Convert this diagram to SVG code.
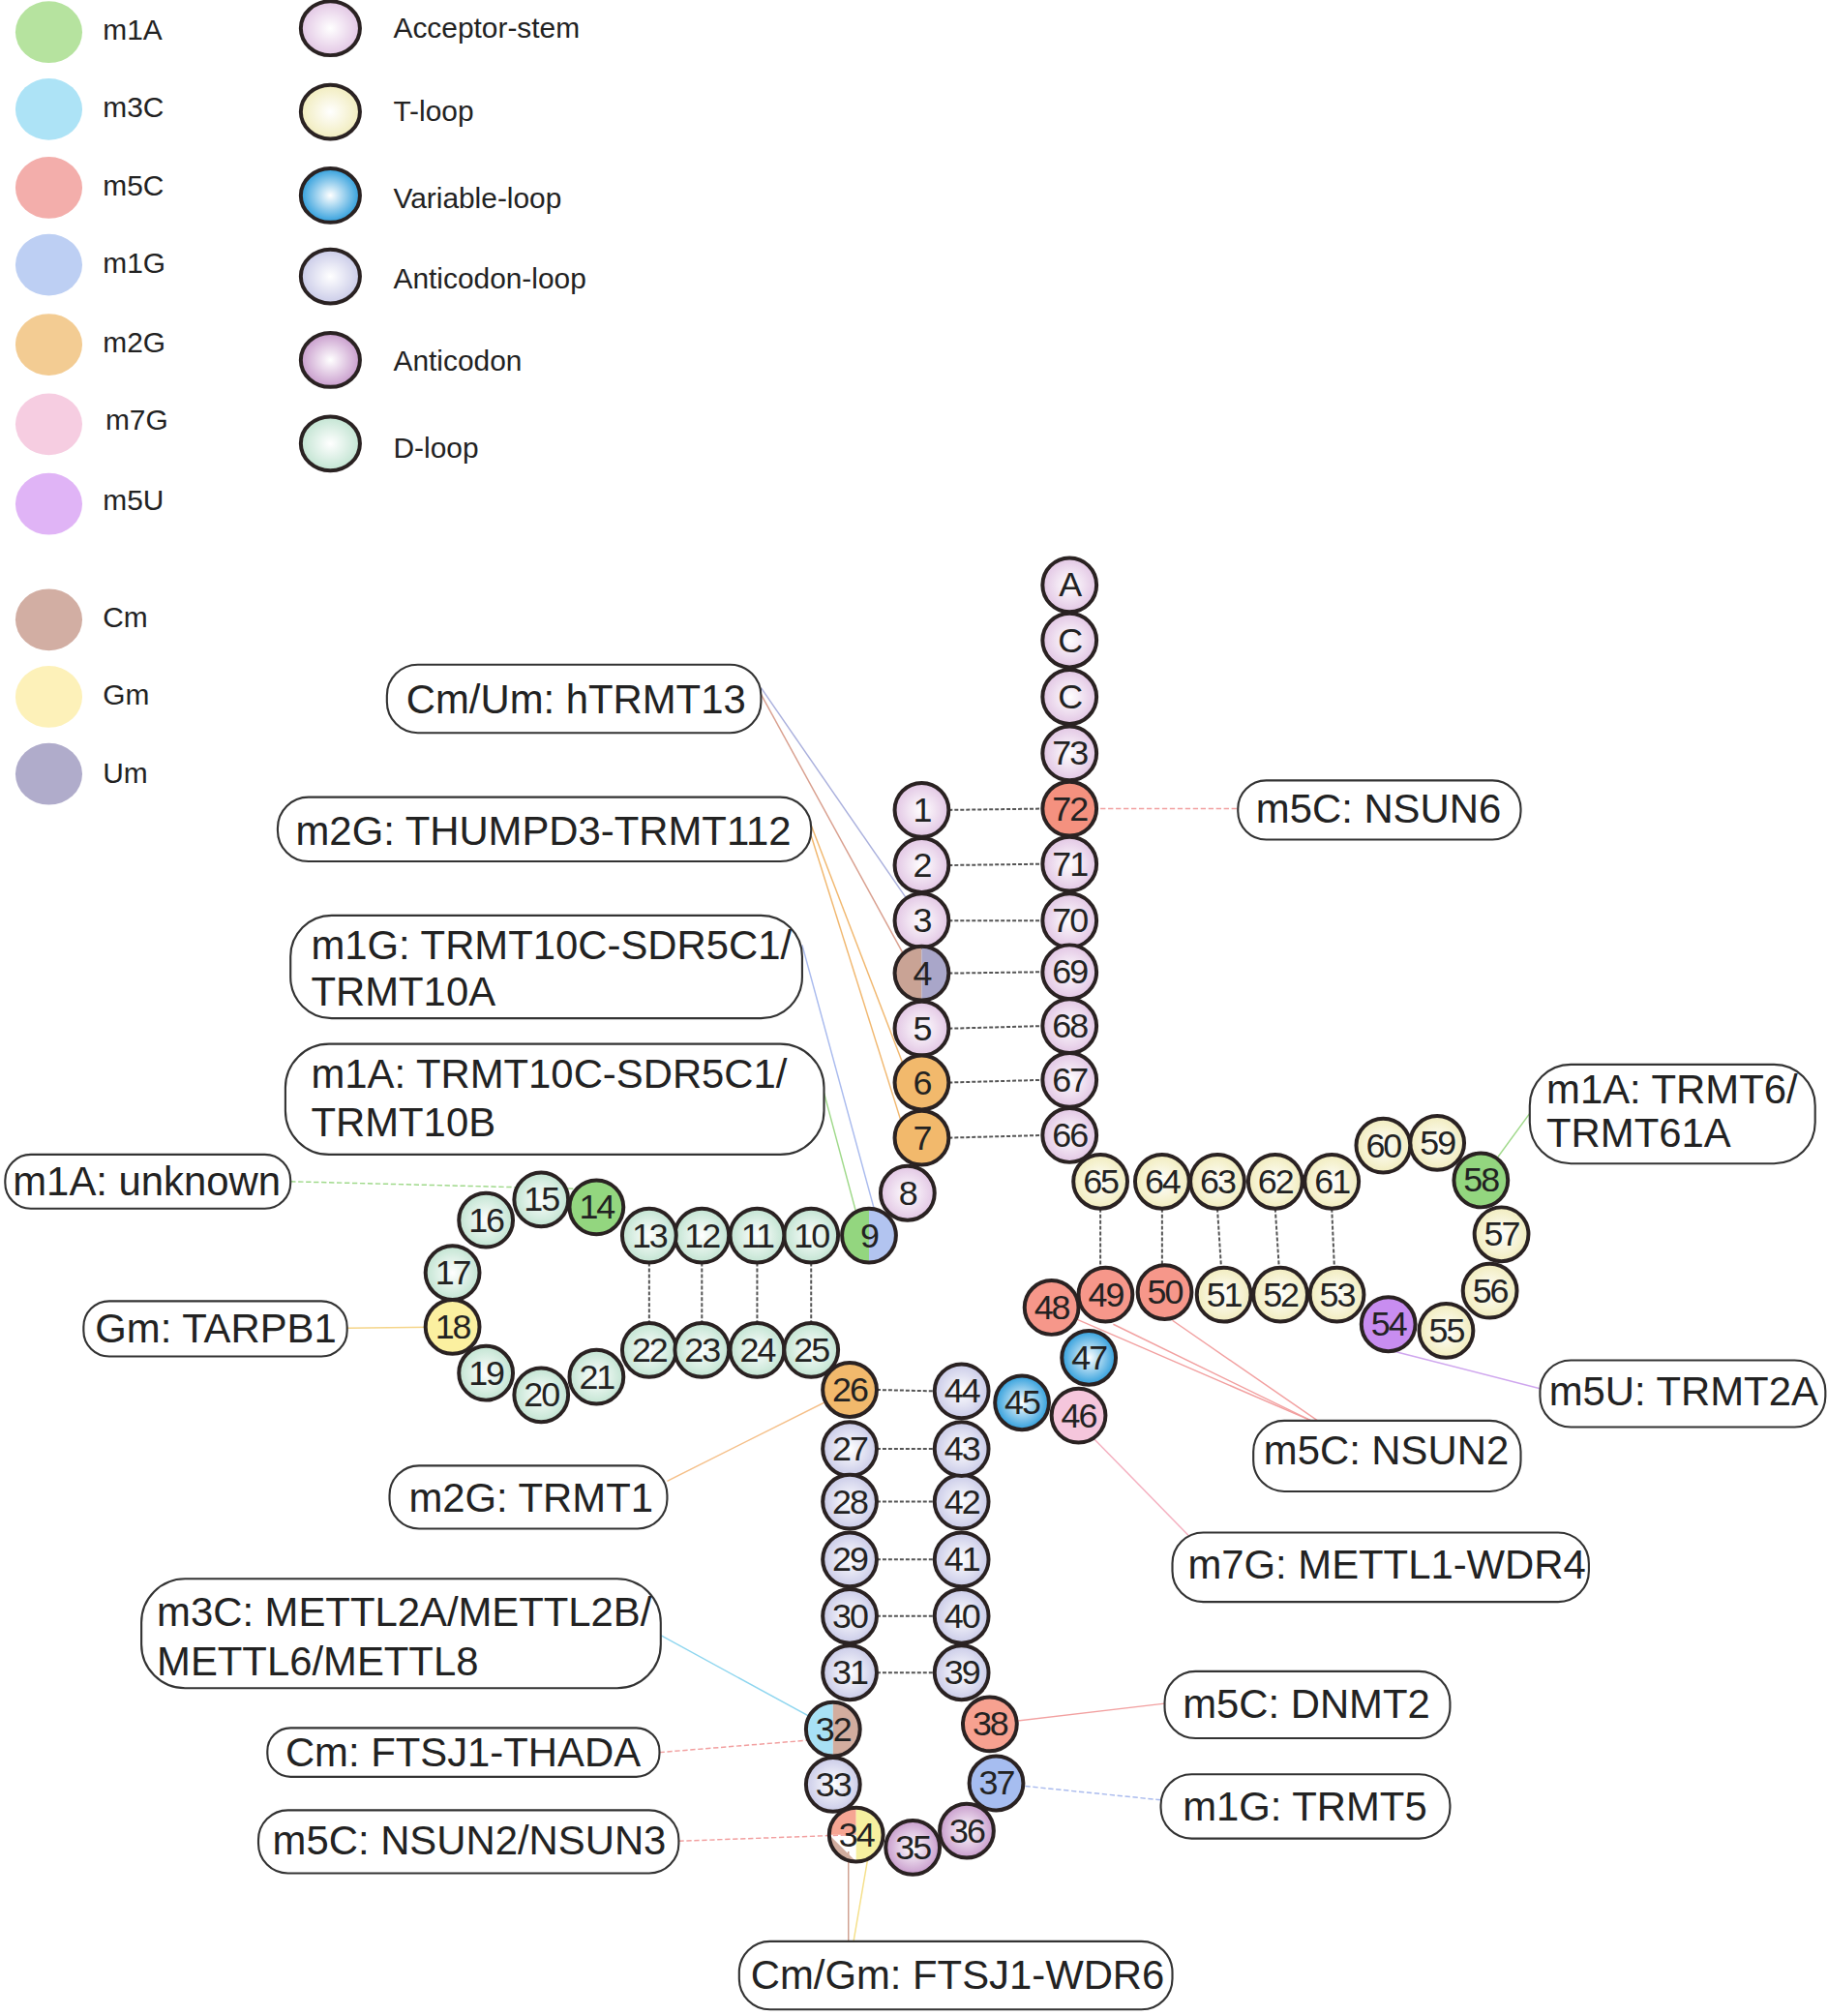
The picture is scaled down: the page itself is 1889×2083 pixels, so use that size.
<svg xmlns="http://www.w3.org/2000/svg" width="1889" height="2083" viewBox="0 0 1889 2083">
<defs>
<radialGradient id="gAcc"><stop offset="0" stop-color="#fff"/><stop offset="1" stop-color="#e2c6e4"/></radialGradient>
<radialGradient id="gT"><stop offset="0" stop-color="#fff"/><stop offset="1" stop-color="#f1ecbd"/></radialGradient>
<radialGradient id="gV"><stop offset="0" stop-color="#fff"/><stop offset="1" stop-color="#2f9edc"/></radialGradient>
<radialGradient id="gAL"><stop offset="0" stop-color="#fff"/><stop offset="1" stop-color="#cacbe8"/></radialGradient>
<radialGradient id="gAC"><stop offset="0" stop-color="#fff"/><stop offset="1" stop-color="#c89ccc"/></radialGradient>
<radialGradient id="gD"><stop offset="0" stop-color="#fff"/><stop offset="1" stop-color="#c2e4d2"/></radialGradient>
<style>
text{font-family:"Liberation Sans",Arial,sans-serif;fill:#222}
.lg{font-size:22.5px}
.n{font-size:27px;text-anchor:middle;dominant-baseline:central;letter-spacing:-1.5px}
.o{stroke:#2a2222;stroke-width:3}
.e{fill:none}
.b{fill:#fff;stroke:#333;stroke-width:1.6}
.bt{font-size:31.5px}
.pr{stroke:#555;stroke-width:1.5;stroke-dasharray:3 1.5}
.c{fill:none;stroke-width:1.1}
</style>
</defs>
<rect width="1889" height="2083" fill="#fff"/>
<g transform="scale(1.3284)">
<g id="legend">
<ellipse cx="38" cy="25" rx="26" ry="24" fill="#b6e39f"/><text class="lg" x="80" y="31">m1A</text>
<ellipse cx="38" cy="85" rx="26" ry="24" fill="#ade3f6"/><text class="lg" x="80" y="91">m3C</text>
<ellipse cx="38" cy="146" rx="26" ry="24" fill="#f3aeab"/><text class="lg" x="80" y="152">m5C</text>
<ellipse cx="38" cy="206" rx="26" ry="24" fill="#bdcff3"/><text class="lg" x="80" y="212">m1G</text>
<ellipse cx="38" cy="268" rx="26" ry="24" fill="#f3cc93"/><text class="lg" x="80" y="274">m2G</text>
<ellipse cx="38" cy="330" rx="26" ry="24" fill="#f6cde1"/><text class="lg" x="82" y="334">m7G</text>
<ellipse cx="38" cy="392" rx="26" ry="24" fill="#e0b4f6"/><text class="lg" x="80" y="397">m5U</text>
<ellipse cx="38" cy="482" rx="26" ry="24" fill="#d2aea3"/><text class="lg" x="80" y="488">Cm</text>
<ellipse cx="38" cy="542" rx="26" ry="24" fill="#fdf1b9"/><text class="lg" x="80" y="548">Gm</text>
<ellipse cx="38" cy="602" rx="26" ry="24" fill="#b0accb"/><text class="lg" x="80" y="609">Um</text>
<ellipse cx="257" cy="22" rx="23" ry="21" fill="url(#gAcc)" class="o"/><text class="lg" x="306" y="29">Acceptor-stem</text>
<ellipse cx="257" cy="87" rx="23" ry="21" fill="url(#gT)" class="o"/><text class="lg" x="306" y="94">T-loop</text>
<ellipse cx="257" cy="152" rx="23" ry="21" fill="url(#gV)" class="o"/><text class="lg" x="306" y="162">Variable-loop</text>
<ellipse cx="257" cy="215" rx="23" ry="21" fill="url(#gAL)" class="o"/><text class="lg" x="306" y="224">Anticodon-loop</text>
<ellipse cx="257" cy="280" rx="23" ry="21" fill="url(#gAC)" class="o"/><text class="lg" x="306" y="288">Anticodon</text>
<ellipse cx="257" cy="345" rx="23" ry="21" fill="url(#gD)" class="o"/><text class="lg" x="306" y="356">D-loop</text>
</g>
<g id="connectors">
<g class="pr">
<line x1="738" y1="630" x2="811" y2="629"/><line x1="738" y1="673" x2="811" y2="672"/><line x1="738" y1="716" x2="811" y2="716"/><line x1="738" y1="757" x2="811" y2="756"/><line x1="738" y1="800" x2="811" y2="798"/><line x1="738" y1="842" x2="811" y2="840"/><line x1="738" y1="885" x2="811" y2="883"/>
<line x1="631" y1="982" x2="631" y2="1029"/><line x1="589" y1="982" x2="589" y2="1029"/><line x1="546" y1="982" x2="546" y2="1029"/><line x1="505" y1="982" x2="505" y2="1029"/>
<line x1="682" y1="1081" x2="727" y2="1082"/><line x1="682" y1="1127" x2="727" y2="1127"/><line x1="682" y1="1168" x2="727" y2="1168"/><line x1="682" y1="1213" x2="727" y2="1213"/><line x1="682" y1="1257" x2="727" y2="1257"/><line x1="682" y1="1301" x2="727" y2="1301"/>
<line x1="856" y1="940" x2="856" y2="986"/><line x1="904" y1="940" x2="904" y2="984"/><line x1="947" y1="940" x2="950" y2="986"/><line x1="992" y1="940" x2="995" y2="986"/><line x1="1036" y1="940" x2="1038" y2="986"/>
</g>
<line class="c" stroke="#aab0dd" x1="592" y1="535" x2="717" y2="716"/>
<line class="c" stroke="#d9a08f" x1="592" y1="540" x2="706" y2="748"/>
<line class="c" stroke="#f1b870" x1="631" y1="642" x2="708" y2="842"/>
<line class="c" stroke="#f1b870" x1="631" y1="650" x2="705" y2="885"/>
<line class="c" stroke="#aabbee" x1="624" y1="735" x2="684" y2="955"/>
<line class="c" stroke="#9fd98a" x1="641" y1="850" x2="670" y2="958"/>
<line class="c" stroke="#9fd98a" stroke-dasharray="4 2" x1="226" y1="919" x2="464" y2="925"/>
<line class="c" stroke="#f5d58a" x1="270" y1="1033" x2="352" y2="1032"/>
<line class="c" stroke="#f5c08a" x1="519" y1="1152" x2="661" y2="1081"/>
<line class="c" stroke="#8fd6ef" x1="514" y1="1272" x2="648" y2="1345"/>
<line class="c" stroke="#f2a0a0" stroke-dasharray="4 2" x1="513" y1="1363" x2="648" y2="1352"/>
<line class="c" stroke="#f2a0a0" stroke-dasharray="4 2" x1="528" y1="1432" x2="666" y2="1427"/>
<line class="c" stroke="#cfa090" x1="660" y1="1510" x2="660" y2="1440"/>
<line class="c" stroke="#f5e08a" x1="664" y1="1510" x2="676" y2="1440"/>
<line class="c" stroke="#f2a0a0" stroke-dasharray="4 2" x1="832" y1="629" x2="963" y2="629"/>
<line class="c" stroke="#9fd98a" x1="1190" y1="866" x2="1152" y2="918"/>
<line class="c" stroke="#cfa6ee" x1="1198" y1="1080" x2="1080" y2="1050"/>
<line class="c" stroke="#f2a0a0" x1="1020" y1="1105" x2="835" y2="1025"/>
<line class="c" stroke="#f2a0a0" x1="1020" y1="1105" x2="866" y2="1030"/>
<line class="c" stroke="#f2a0a0" x1="1025" y1="1105" x2="912" y2="1027"/>
<line class="c" stroke="#f5b0c0" x1="935" y1="1205" x2="850" y2="1118"/>
<line class="c" stroke="#f2a0a0" x1="906" y1="1325" x2="770" y2="1341"/>
<line class="c" stroke="#aabbee" stroke-dasharray="4 2" x1="903" y1="1400" x2="775" y2="1387"/>
</g>
<g id="labels">
<g id="l1"><rect class="b" x="301" y="517" width="291" height="53" rx="24"/><text class="bt" x="316" y="555">Cm/Um: hTRMT13</text></g>
<g id="l2"><rect class="b" x="216" y="620" width="415" height="50" rx="24"/><text class="bt" x="230" y="657">m2G: THUMPD3-TRMT112</text></g>
<g id="l3"><rect class="b" x="226" y="712" width="398" height="80" rx="32"/><text class="bt" x="242" y="746">m1G: TRMT10C-SDR5C1/</text><text class="bt" x="242" y="782">TRMT10A</text></g>
<g id="l4"><rect class="b" x="222" y="812" width="419" height="86" rx="34"/><text class="bt" x="242" y="846">m1A: TRMT10C-SDR5C1/</text><text class="bt" x="242" y="884">TRMT10B</text></g>
<g id="l5"><rect class="b" x="4" y="898" width="222" height="42" rx="20"/><text class="bt" x="10" y="930">m1A: unknown</text></g>
<g id="l6"><rect class="b" x="65" y="1012" width="205" height="43" rx="20"/><text class="bt" x="74" y="1044">Gm: TARPB1</text></g>
<g id="l7"><rect class="b" x="303" y="1140" width="216" height="49" rx="23"/><text class="bt" x="318" y="1176">m2G: TRMT1</text></g>
<g id="l8"><rect class="b" x="110" y="1228" width="404" height="85" rx="34"/><text class="bt" x="122" y="1265">m3C: METTL2A/METTL2B/</text><text class="bt" x="122" y="1303">METTL6/METTL8</text></g>
<g id="l9"><rect class="b" x="208" y="1344" width="305" height="38" rx="18"/><text class="bt" x="222" y="1374">Cm: FTSJ1-THADA</text></g>
<g id="l10"><rect class="b" x="201" y="1408" width="327" height="49" rx="23"/><text class="bt" x="212" y="1442">m5C: NSUN2/NSUN3</text></g>
<g id="l11"><rect class="b" x="575" y="1510" width="337" height="53" rx="24"/><text class="bt" x="584" y="1547">Cm/Gm: FTSJ1-WDR6</text></g>
<g id="l12"><rect class="b" x="963" y="607" width="220" height="46" rx="22"/><text class="bt" x="977" y="640">m5C: NSUN6</text></g>
<g id="l13"><rect class="b" x="1190" y="828" width="222" height="77" rx="32"/><text class="bt" x="1203" y="858">m1A: TRMT6/</text><text class="bt" x="1203" y="892">TRMT61A</text></g>
<g id="l14"><rect class="b" x="1198" y="1058" width="222" height="52" rx="24"/><text class="bt" x="1205" y="1093">m5U: TRMT2A</text></g>
<g id="l15"><rect class="b" x="975" y="1105" width="208" height="55" rx="24"/><text class="bt" x="983" y="1139">m5C: NSUN2</text></g>
<g id="l16"><rect class="b" x="912" y="1192" width="324" height="54" rx="24"/><text class="bt" x="924" y="1228">m7G: METTL1-WDR4</text></g>
<g id="l17"><rect class="b" x="906" y="1300" width="222" height="52" rx="24"/><text class="bt" x="920" y="1336">m5C: DNMT2</text></g>
<g id="l18"><rect class="b" x="903" y="1380" width="225" height="50" rx="24"/><text class="bt" x="920" y="1416">m1G: TRMT5</text></g>
</g>
<g id="nodes">
<g fill="url(#gAcc)" class="o">
<circle cx="832" cy="455" r="21"/><circle cx="832" cy="498" r="21"/><circle cx="832" cy="542" r="21"/><circle cx="832" cy="586" r="21"/><circle cx="832" cy="672" r="21"/><circle cx="832" cy="716" r="21"/><circle cx="832" cy="756" r="21"/><circle cx="832" cy="798" r="21"/><circle cx="832" cy="840" r="21"/><circle cx="832" cy="883" r="21"/>
<circle cx="717" cy="630" r="21"/><circle cx="717" cy="673" r="21"/><circle cx="717" cy="716" r="21"/><circle cx="717" cy="800" r="21"/><circle cx="706" cy="928" r="21"/>
</g>
<g fill="url(#gD)" class="o">
<circle cx="631" cy="961" r="21"/><circle cx="589" cy="961" r="21"/><circle cx="546" cy="961" r="21"/><circle cx="505" cy="961" r="21"/><circle cx="421" cy="933" r="21"/><circle cx="378" cy="949" r="21"/><circle cx="352" cy="990" r="21"/><circle cx="378" cy="1068" r="21"/><circle cx="421" cy="1085" r="21"/><circle cx="464" cy="1071" r="21"/><circle cx="505" cy="1050" r="21"/><circle cx="546" cy="1050" r="21"/><circle cx="589" cy="1050" r="21"/><circle cx="631" cy="1050" r="21"/>
</g>
<g fill="url(#gAL)" class="o">
<circle cx="661" cy="1127" r="21"/><circle cx="661" cy="1168" r="21"/><circle cx="661" cy="1213" r="21"/><circle cx="661" cy="1257" r="21"/><circle cx="661" cy="1301" r="21"/><circle cx="648" cy="1388" r="21"/><circle cx="748" cy="1301" r="21"/><circle cx="748" cy="1257" r="21"/><circle cx="748" cy="1213" r="21"/><circle cx="748" cy="1168" r="21"/><circle cx="748" cy="1127" r="21"/><circle cx="748" cy="1082" r="21"/>
</g>
<g fill="url(#gAC)" class="o"><circle cx="710" cy="1437" r="21"/><circle cx="752" cy="1424" r="21"/></g>
<g fill="url(#gV)" class="o"><circle cx="795" cy="1091" r="21"/><circle cx="847" cy="1056" r="21"/></g>
<g fill="url(#gT)" class="o">
<circle cx="952" cy="1007" r="21"/><circle cx="996" cy="1007" r="21"/><circle cx="1040" cy="1007" r="21"/><circle cx="1125" cy="1035" r="21"/><circle cx="1159" cy="1004" r="21"/><circle cx="1168" cy="960" r="21"/><circle cx="1118" cy="889" r="21"/><circle cx="1076" cy="891" r="21"/><circle cx="1036" cy="919" r="21"/><circle cx="992" cy="919" r="21"/><circle cx="947" cy="919" r="21"/><circle cx="904" cy="919" r="21"/><circle cx="856" cy="919" r="21"/>
</g>
<g class="o">
<circle cx="832" cy="629" r="21" fill="#f4917f"/>
<circle cx="717" cy="842" r="21" fill="#f2b96c"/><circle cx="717" cy="885" r="21" fill="#f2b96c"/>
<circle cx="464" cy="939" r="21" fill="#93d67f"/>
<circle cx="352" cy="1032" r="21" fill="#fbf0a0"/>
<circle cx="661" cy="1081" r="21" fill="#f2b96c"/>
<circle cx="770" cy="1341" r="21" fill="#f7a190"/>
<circle cx="775" cy="1387" r="21" fill="#a6bdf0"/>
<circle cx="839" cy="1101" r="21" fill="#f5c6dc"/>
<circle cx="818" cy="1017" r="21" fill="#f6978a"/><circle cx="860" cy="1007" r="21" fill="#f6978a"/><circle cx="906" cy="1005" r="21" fill="#f6978a"/>
<circle cx="1080" cy="1030" r="21" fill="#c88df0"/>
<circle cx="1152" cy="918" r="21" fill="#93d67f"/>
</g>
<g stroke="none">
<path d="M717 736A21 21 0 0 0 717 778Z" fill="#c9a395"/><path d="M717 736A21 21 0 0 1 717 778Z" fill="#a9a6c9"/>
<path d="M676 940A21 21 0 0 0 676 982Z" fill="#93d67f"/><path d="M676 940A21 21 0 0 1 676 982Z" fill="#b2c4f0"/>
<path d="M648 1324A21 21 0 0 0 648 1366Z" fill="#a8e1f5"/><path d="M648 1324A21 21 0 0 1 648 1366Z" fill="#d2ad9f"/>
<path d="M666 1406A21 21 0 0 0 645 1427L666 1427Z" fill="#f6a593"/><path d="M645 1427A21 21 0 0 0 666 1448Z" fill="#d2ad9f"/><path d="M666 1406A21 21 0 0 1 666 1448Z" fill="#f6f0a0"/>
</g>
<g class="o e"><circle cx="717" cy="757" r="21"/><circle cx="676" cy="961" r="21"/><circle cx="648" cy="1345" r="21"/><circle cx="666" cy="1427" r="21"/></g>
<g id="nums">
<text class="n" x="832" y="455">A</text><text class="n" x="832" y="498">C</text><text class="n" x="832" y="542">C</text><text class="n" x="832" y="586">73</text><text class="n" x="832" y="629">72</text><text class="n" x="832" y="672">71</text><text class="n" x="832" y="716">70</text><text class="n" x="832" y="756">69</text><text class="n" x="832" y="798">68</text><text class="n" x="832" y="840">67</text><text class="n" x="832" y="883">66</text>
<text class="n" x="717" y="630">1</text><text class="n" x="717" y="673">2</text><text class="n" x="717" y="716">3</text><text class="n" x="717" y="757">4</text><text class="n" x="717" y="800">5</text><text class="n" x="717" y="842">6</text><text class="n" x="717" y="885">7</text><text class="n" x="706" y="928">8</text><text class="n" x="676" y="961">9</text>
<text class="n" x="631" y="961">10</text><text class="n" x="589" y="961">11</text><text class="n" x="546" y="961">12</text><text class="n" x="505" y="961">13</text><text class="n" x="464" y="939">14</text><text class="n" x="421" y="933">15</text><text class="n" x="378" y="949">16</text><text class="n" x="352" y="990">17</text><text class="n" x="352" y="1032">18</text><text class="n" x="378" y="1068">19</text><text class="n" x="421" y="1085">20</text><text class="n" x="464" y="1071">21</text><text class="n" x="505" y="1050">22</text><text class="n" x="546" y="1050">23</text><text class="n" x="589" y="1050">24</text><text class="n" x="631" y="1050">25</text><text class="n" x="661" y="1081">26</text>
<text class="n" x="661" y="1127">27</text><text class="n" x="661" y="1168">28</text><text class="n" x="661" y="1213">29</text><text class="n" x="661" y="1257">30</text><text class="n" x="661" y="1301">31</text><text class="n" x="648" y="1345">32</text><text class="n" x="648" y="1388">33</text><text class="n" x="666" y="1427">34</text><text class="n" x="710" y="1437">35</text><text class="n" x="752" y="1424">36</text><text class="n" x="775" y="1387">37</text><text class="n" x="770" y="1341">38</text><text class="n" x="748" y="1301">39</text><text class="n" x="748" y="1257">40</text><text class="n" x="748" y="1213">41</text><text class="n" x="748" y="1168">42</text><text class="n" x="748" y="1127">43</text><text class="n" x="748" y="1082">44</text>
<text class="n" x="795" y="1091">45</text><text class="n" x="839" y="1101">46</text><text class="n" x="847" y="1056">47</text><text class="n" x="818" y="1017">48</text><text class="n" x="860" y="1007">49</text><text class="n" x="906" y="1005">50</text><text class="n" x="952" y="1007">51</text><text class="n" x="996" y="1007">52</text><text class="n" x="1040" y="1007">53</text><text class="n" x="1080" y="1030">54</text><text class="n" x="1125" y="1035">55</text><text class="n" x="1159" y="1004">56</text><text class="n" x="1168" y="960">57</text><text class="n" x="1152" y="918">58</text><text class="n" x="1118" y="889">59</text><text class="n" x="1076" y="891">60</text><text class="n" x="1036" y="919">61</text><text class="n" x="992" y="919">62</text><text class="n" x="947" y="919">63</text><text class="n" x="904" y="919">64</text><text class="n" x="856" y="919">65</text>
</g>
</g>
</g>
</svg>
